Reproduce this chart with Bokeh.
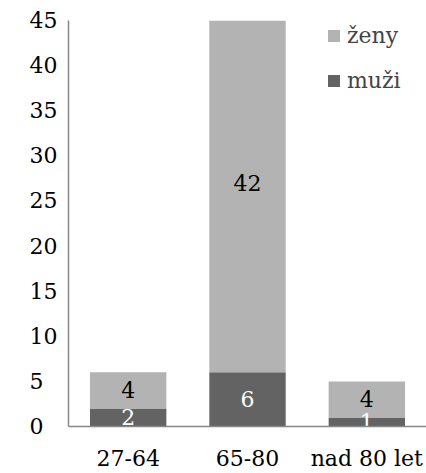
from bokeh.plotting import figure
from bokeh.models import Range1d, FactorRange, ColumnDataSource, Legend, LegendItem, FixedTicker
from bokeh.core.properties import value
from bokeh.embed import file_html
from bokeh.resources import INLINE

categories = ["27-64", "65-80", "nad 80 let"]
muzi = [2, 6, 1]
zeny = [4, 42, 4]
y_ticks = [0, 5, 10, 15, 20, 25, 30, 35, 40, 45]

FONT = "DejaVu Serif"
C_ZENY = "#b3b3b3"
C_MUZI = "#636363"
AXIS_C = "#878787"

src = ColumnDataSource(dict(
    cat=categories, muzi=muzi, zeny=zeny,
    total=[m + z for m, z in zip(muzi, zeny)],
    muzi_mid=[m / 2 for m in muzi],
    zeny_mid=[m + z / 2 for m, z in zip(muzi, zeny)],
    muzi_lbl=[str(v) for v in muzi],
    zeny_lbl=[str(v) for v in zeny],
))

p = figure(width=426, height=473, x_range=FactorRange(*categories, range_padding=0),
           y_range=Range1d(0, 45), output_backend="svg", toolbar_location=None,
           min_border_left=68, min_border_right=0, min_border_top=20, min_border_bottom=44)
p.outline_line_color = None
p.grid.visible = False

r_m = p.vbar(x="cat", bottom=0, top="muzi", width=0.64, source=src,
             fill_color=C_MUZI, line_color=None)
r_z = p.vbar(x="cat", bottom="muzi", top="total", width=0.64,
             source=src, fill_color=C_ZENY, line_color=None)

p.text(x="cat", y="muzi_mid", text="muzi_lbl", source=src, text_color="white",
       text_font=value(FONT), text_font_size="22px", text_align="center",
       text_baseline="middle")
p.text(x="cat", y="zeny_mid", text="zeny_lbl", source=src, text_color="black",
       text_font=value(FONT), text_font_size="22px", text_align="center",
       text_baseline="middle")

for ax in (p.xaxis[0], p.yaxis[0]):
    ax.axis_line_color = AXIS_C
    ax.axis_line_width = 1.5
    ax.major_tick_line_color = None
    ax.minor_tick_line_color = None
    ax.major_label_text_font = FONT
    ax.major_label_text_font_size = "22px"
    ax.major_label_text_color = "black"

p.yaxis.ticker = FixedTicker(ticks=y_ticks)
p.yaxis.major_label_overrides = {t: (str(t) + "\u2007" if t < 10 else str(t)) for t in y_ticks}
p.yaxis.major_label_standoff = 5
p.xaxis.major_label_standoff = 13

legend = Legend(items=[LegendItem(label="ženy", renderers=[r_z]),
                       LegendItem(label="muži", renderers=[r_m])],
                location=(258, 331), glyph_width=15, glyph_height=15,
                label_text_font=FONT, label_text_font_size="22px",
                label_height=30, spacing=15, padding=0, margin=0,
                border_line_color=None, background_fill_alpha=0, label_standoff=6)
p.add_layout(legend)

open("out.html", "w").write(file_html(p, INLINE))
